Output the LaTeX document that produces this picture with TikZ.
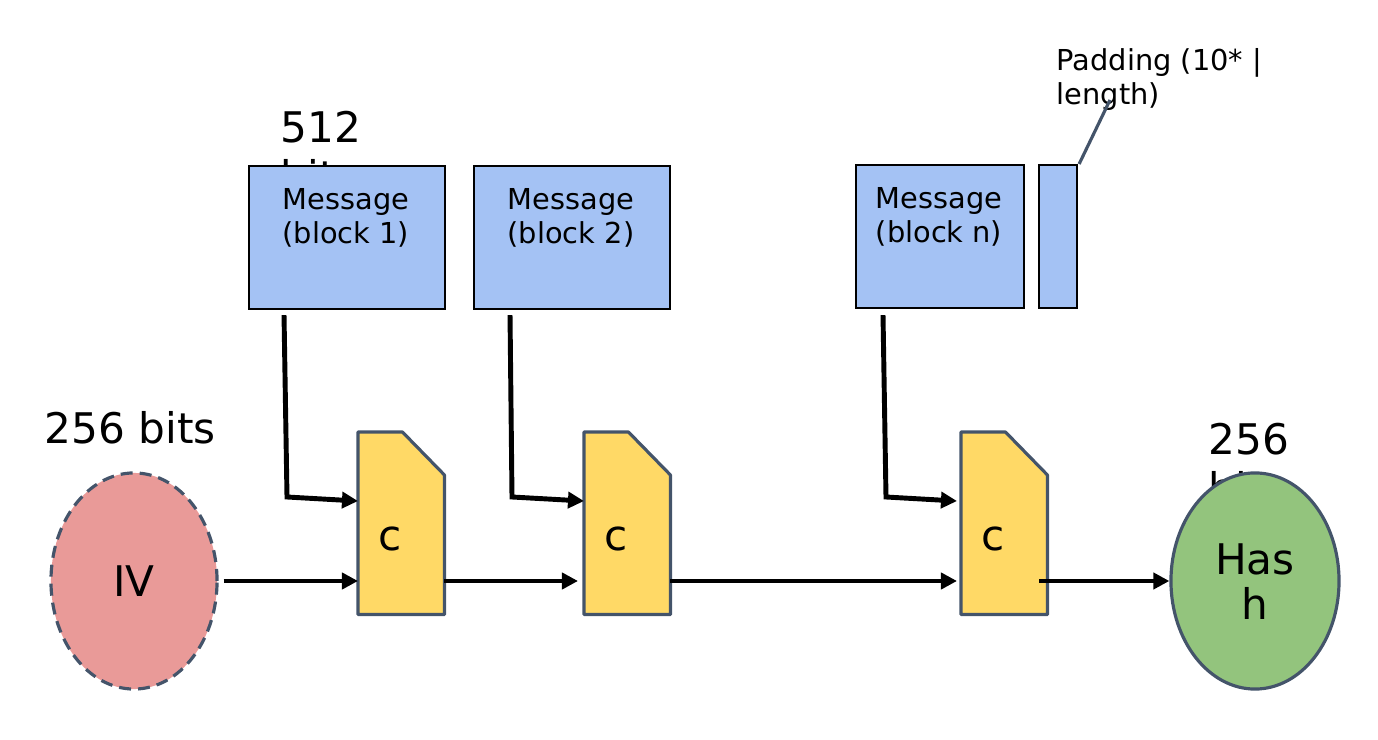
\documentclass[tikz,border=0pt]{standalone}
\usepackage{fontspec}
\setmainfont{DejaVu Sans}
\usetikzlibrary{arrows.meta,shapes.geometric}
\definecolor{blk}{HTML}{A4C2F4}
\definecolor{yel}{HTML}{FFD966}
\definecolor{ivred}{HTML}{E99A98}
\definecolor{hgreen}{HTML}{93C47D}
\definecolor{slate}{HTML}{44546A}
\tikzset{
  msgbox/.style={draw=black, line width=0.6pt, fill=blk, anchor=north west, inner sep=0pt},
  cbox/.style={draw=none, anchor=north west, minimum width=0.85cm, minimum height=1.81cm, inner sep=0pt},
  cfill/.style={fill=yel, draw=slate, line width=0.9pt, line join=round},
  arr/.style={line width=1.4pt, -{Triangle[length=0.16cm,width=0.16cm]}},
  small/.style={font=\fontsize{8.2}{9.5}\selectfont, inner sep=0pt},
  big/.style={font=\fontsize{12}{14}\selectfont, inner sep=0pt},
}
\begin{document}
\begin{tikzpicture}[x=0.01cm,y=-0.01cm]
\useasboundingbox (0,0) rectangle (1378,740);
% labels partially hidden
\node[big, anchor=base west] (l512) at (280,143) {512};
\node[big, anchor=base west] (l512b) at (280,192) {bits};
\node[big, anchor=base west] (l256a) at (44,444) {256 bits};
\node[big, anchor=base west] (l256b) at (1208,455) {256};
\node[big, anchor=base west] (l256c) at (1208,504) {bits};
\node[small, anchor=base west] (lpad) at (1056,71) {Padding (10* |};
\node[small, anchor=base west] (lpad2) at (1056,105) {length)};
% message boxes
\node[msgbox, minimum width=1.96cm, minimum height=1.43cm] (B1) at (248,165) {};
\node[msgbox, minimum width=1.96cm, minimum height=1.43cm] (B2) at (473,165) {};
\node[msgbox, minimum width=1.68cm, minimum height=1.43cm] (Bn) at (855,164) {};
\node[msgbox, minimum width=0.38cm, minimum height=1.43cm] (Pd) at (1038,164) {};
\node[small, anchor=base] (t1a) at (346,210) {Message};
\node[small, anchor=base] (t1b) at (346,244) {(block 1)};
\node[small, anchor=base] (t2a) at (571,210) {Message};
\node[small, anchor=base] (t2b) at (571,244) {(block 2)};
\node[small, anchor=base] (tna) at (939,209) {Message};
\node[small, anchor=base] (tnb) at (939,243) {(block n)};
\coordinate (padend) at (1110,100);
\draw[slate, line width=0.9pt] ([xshift=0.01cm]Pd.north east) -- (padend);
% compression boxes
\foreach \n/\x in {C1/358, C2/584, C3/961}{
  \node[cbox] (\n) at (\x,432) {};
  \draw[cfill] (\n.south west) -- (\n.north west) -- ([xshift=-0.42cm]\n.north east)
     -- ([yshift=-0.43cm]\n.north east) -- (\n.south east) -- cycle;
}
\node[big, anchor=base] (c1) at (390,551) {c};
\node[big, anchor=base] (c2) at (616,551) {c};
\node[big, anchor=base] (c3) at (993,551) {c};
% IV and Hash
\node[ellipse, draw=slate, fill=ivred, line width=0.9pt, dash pattern=on 0.12cm off 0.07cm,
  minimum width=1.66cm, minimum height=2.16cm, inner sep=0pt] (IV) at (134,581) {};
\node[big, anchor=base] (ivt) at (134,597) {IV};
\node[ellipse, draw=slate, fill=hgreen, line width=0.9pt,
  minimum width=1.68cm, minimum height=2.16cm, inner sep=0pt] (H) at (1255,581) {};
\node[big, anchor=base] (ht) at (1255,575) {Has};
\node[big, anchor=base] (ht2) at (1255,620) {h};
% chaining arrows
\draw[arr] ([xshift=0.05cm]IV.east) -- (IV -| C1.west);
\draw[arr] (C1.east |- IV) -- ([xshift=-0.06cm]C2.west |- IV);
\draw[arr] (C2.east |- IV) -- ([xshift=-0.04cm]C3.west |- IV);
\draw[arr] ([xshift=-0.08cm]C3.east |- IV) -- (H.west);
% message arrows
\draw[arr] ([xshift=0.36cm,yshift=-0.05cm]B1.south west) -- (287,497) -- ([yshift=-0.69cm]C1.north west);
\draw[arr] ([xshift=0.37cm,yshift=-0.05cm]B2.south west) -- (512,497) -- ([yshift=-0.69cm]C2.north west);
\draw[arr] ([xshift=0.28cm,yshift=-0.06cm]Bn.south west) -- (886,497) -- ([xshift=-0.04cm,yshift=-0.69cm]C3.north west);
\end{tikzpicture}
\end{document}
